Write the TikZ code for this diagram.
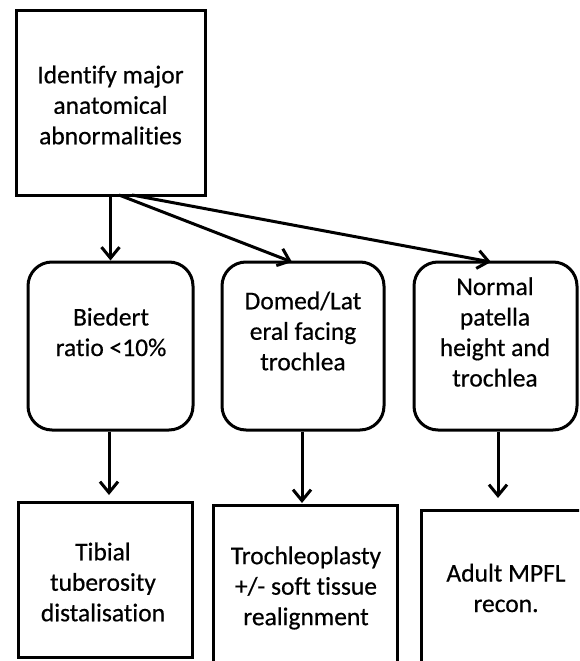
\documentclass[tikz,border=0pt]{standalone}
\usepackage{fontspec}
\setmainfont{Carlito}[Ligatures=NoCommon,FakeBold=0.5]
\usetikzlibrary{arrows.meta}
\begin{document}
\begin{tikzpicture}[x=1pt,y=1pt,
  box/.style={draw=black,line width=3pt,inner sep=0pt,fill=white},
  sqbox/.style={box},
  rbox/.style={box,rounded corners=24pt},
  txt/.style={align=center,inner sep=0pt,font=\fontsize{25.5}{30.5}\selectfont},
  arr/.style={line width=3pt,-{Straight Barb[length=11pt,width=18pt,line width=3pt]}}]
\clip (0,0) rectangle (579,-661);
\fill[white] (0,0) rectangle (579,-661);
% boxes
\node[sqbox,minimum width=189pt,minimum height=184pt] (top) at (110.5,-103) {};
\node[rbox,minimum width=165pt,minimum height=168pt] (r1) at (110.5,-346) {};
\node[rbox,minimum width=162pt,minimum height=168pt] (r2) at (303,-346) {};
\node[rbox,minimum width=163pt,minimum height=168pt] (r3) at (495.5,-346) {};
\node[sqbox,minimum width=174pt,minimum height=155pt] (b1) at (105,-579.5) {};
\node[sqbox,minimum width=184pt,minimum height=195pt] (b2) at (305,-602.5) {};
\node[sqbox,minimum width=199pt,minimum height=190pt] (b3) at (520.5,-605) {};
% texts
\node[txt] (ttop) at (110.5,-105) {Identify major\\anatomical\\abnormalities};
\node[txt] (tr1) at (111,-332) {Biedert\\ratio <10\%};
\node[txt] (tr2) at (303,-331) {Domed/Lat\\eral facing\\trochlea};
\node[txt] (tr3) at (495,-332) {Normal\\patella\\height and\\trochlea};
\node[txt] (tb1) at (103,-582) {Tibial\\tuberosity\\distalisation};
\node[txt] (tb2) at (306,-588) {Trochleoplasty\\+/- soft tissue\\realignment};
\node[txt] (tb3) at (506,-588) {Adult MPFL\\recon.};
% connector end points
\coordinate (s2) at (119,-195);
\coordinate (s3) at (132,-195);
\coordinate (e2) at (292,-262);
\coordinate (e3) at (491,-262);
\coordinate (e4) at (109,-495);
\coordinate (e5) at (302,-503);
\coordinate (e6) at (498,-498);
% connectors
\draw[arr] (top.south) -- (r1.north);
\draw[arr] (s2) -- (e2);
\draw[arr] (s3) -- (e3);
\draw[arr] (r1.south -| e4) -- (e4);
\draw[arr] (r2.south -| e5) -- (e5);
\draw[arr] (r3.south -| e6) -- (e6);
\end{tikzpicture}
\end{document}
